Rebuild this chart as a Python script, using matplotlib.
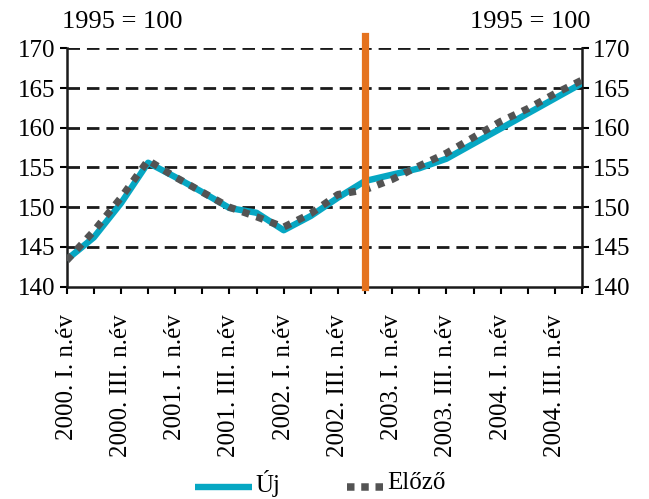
import matplotlib
matplotlib.use("Agg")
import matplotlib.pyplot as plt
from matplotlib.lines import Line2D

plt.rcParams['font.family'] = ['Liberation Serif', 'DejaVu Serif']

quarters = ["2000. I. n.év", "2000. II. n.év", "2000. III. n.év", "2000. IV. n.év",
            "2001. I. n.év", "2001. II. n.év", "2001. III. n.év", "2001. IV. n.év",
            "2002. I. n.év", "2002. II. n.év", "2002. III. n.év", "2002. IV. n.év",
            "2003. I. n.év", "2003. II. n.év", "2003. III. n.év", "2003. IV. n.év",
            "2004. I. n.év", "2004. II. n.év", "2004. III. n.év", "2004. IV. n.év"]
uj = [143.4, 146.2, 150.5, 155.6, 153.8, 151.9, 149.9, 149.3, 147.1, 148.9,
      151.2, 153.3, 154.1, 154.9, 156.1, 158.0, 159.9, 161.8, 163.7, 165.6]
elozo = [143.3, 147.0, 151.2, 155.9, 153.8, 151.9, 150.0, 148.8, 147.5, 149.2,
         151.6, 152.2, 153.5, 155.2, 156.8, 158.8, 160.8, 162.4, 164.3, 166.0]
series_names = ['Új', 'Előző']
break_index = 11
y_ticks = [140, 145, 150, 155, 160, 165, 170]

teal = '#06A7C3'
grey = '#535353'
orange = '#E5731F'
W, H = 649, 499

fig = plt.figure(figsize=(6.49, 4.99), dpi=100)
ax = fig.add_axes([0.1028, 0.4255, 0.794, 0.4777])

x = list(range(len(quarters)))
ax.set_xlim(0, len(quarters) - 1)
ax.set_ylim(140, 170)

for yv in y_ticks[1:]:
    ax.axhline(yv, color='#1a1a1a', lw=2.0, ls=(0, (4.5, 2.5)), zorder=1)

dotted = (0, (1, 1.05))
ax.plot(x, uj, color=teal, lw=4.6, solid_capstyle='butt', zorder=3)
ax.plot(x, elozo, color=grey, lw=5.2, ls=dotted, dash_capstyle='butt', zorder=4)

ax.axvline(break_index, ymin=0, ymax=1.05, color=orange, lw=5.2, clip_on=False, zorder=5)

ax.set_xticks(x)
ax.set_xticklabels([q if i % 2 == 0 else '' for i, q in enumerate(quarters)], rotation=90, fontsize=18)
ax.set_yticks(y_ticks)
ax.set_yticklabels([str(v) for v in y_ticks], fontsize=18)
ax.tick_params(axis='y', which='both', left=True, right=True, labelleft=True, labelright=True,
               direction='out', length=5, width=1.5, pad=3)
ax.tick_params(axis='x', direction='out', length=5, width=1.5, pad=15)

for s in ['left', 'right', 'bottom']:
    ax.spines[s].set_linewidth(1.8)
    ax.spines[s].set_color('#1a1a1a')
ax.spines['top'].set_visible(False)

fig.text(62 / W, 1 - 22 / H, '1995 = 100', fontsize=19, ha='left', va='center')
fig.text(590 / W, 1 - 22 / H, '1995 = 100', fontsize=19, ha='right', va='center')

# legend drawn manually (handles of different lengths as in the reference)
ly = 1 - 487 / H
fig.add_artist(Line2D([195 / W, 252 / W], [ly, ly], color=teal, lw=4.6, solid_capstyle='butt'))
fig.text(255 / W, ly + 0.008, series_names[0], fontsize=18, ha='left', va='center')
fig.add_artist(Line2D([347 / W, 385 / W], [ly, ly], color=grey, lw=5.4, ls=(0, (1, 0.9)), dash_capstyle='butt'))
fig.text(387 / W, ly + 0.008, series_names[1], fontsize=18, ha='left', va='center')

fig.savefig('out.png', dpi=100)
